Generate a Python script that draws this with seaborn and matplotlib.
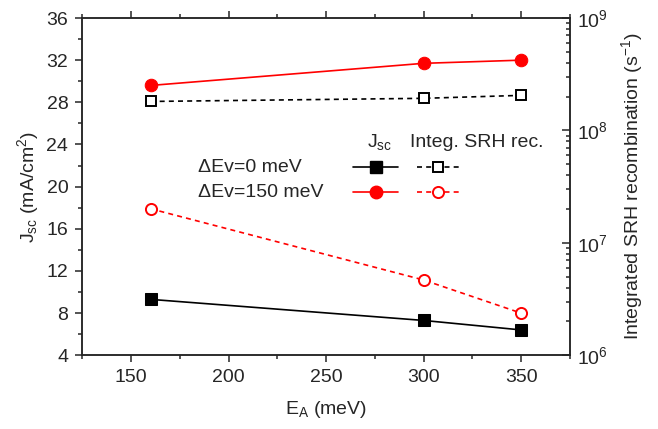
import matplotlib
matplotlib.use("Agg")
import matplotlib.pyplot as plt
from matplotlib.ticker import MultipleLocator, LogLocator, NullFormatter
import seaborn as sns

# E_A (meV)
ea = [160, 300, 350]

# Jsc (mA/cm2)
jsc_dev0 = [9.3, 7.3, 6.4]
jsc_dev150 = [29.6, 31.7, 32.0]

# integrated SRH recombination (s^-1)
srh_dev0 = [1.81e8, 1.93e8, 2.05e8]
srh_dev150 = [2.01e7, 4.67e6, 2.37e6]

legend_rows = ["\u0394Ev=0 meV", "\u0394Ev=150 meV"]
RED = "#FF0000"

sns.set_style("ticks")
plt.rcParams["font.family"] = ["Liberation Sans", "DejaVu Sans"]
plt.rcParams["mathtext.fontset"] = "custom"
plt.rcParams["mathtext.rm"] = "Liberation Sans"
plt.rcParams["mathtext.it"] = "Liberation Sans:italic"
plt.rcParams["font.size"] = 14
plt.rcParams["axes.linewidth"] = 1.1

fig = plt.figure(figsize=(6.58, 4.29), dpi=100)
ax = fig.add_axes([0.125, 0.172, 0.741, 0.786])
ax2 = ax.twinx()

sns.lineplot(x=ea, y=jsc_dev0, ax=ax, color="black", marker="s", markersize=8,
             markeredgecolor="black", linewidth=1.2)
sns.lineplot(x=ea, y=jsc_dev150, ax=ax, color=RED, marker="o", markersize=9,
             markeredgecolor=RED, linewidth=1.2)
sns.lineplot(x=ea, y=srh_dev0, ax=ax2, color="black", marker="s", markersize=7,
             markerfacecolor="white", markeredgecolor="black", markeredgewidth=1.4,
             linewidth=1.2, linestyle=(0, (3, 2.5)))
sns.lineplot(x=ea, y=srh_dev150, ax=ax2, color=RED, marker="o", markersize=8,
             markerfacecolor="white", markeredgecolor=RED, markeredgewidth=1.4,
             linewidth=1.2, linestyle=(0, (3, 2.5)))

ax.set_xlim(125, 375)
ax.set_ylim(4, 36)
ax.xaxis.set_major_locator(MultipleLocator(50))
ax.xaxis.set_minor_locator(MultipleLocator(25))
ax.yaxis.set_major_locator(MultipleLocator(4))
ax.yaxis.set_minor_locator(MultipleLocator(2))
ax.tick_params(which="both", direction="out", top=True, right=False, width=1.1)
ax.tick_params(which="major", length=5, pad=5)
ax.tick_params(which="minor", length=3)
ax.set_xlabel(r"E$_\mathrm{A}$ (meV)", labelpad=9)
ax.set_ylabel(r"J$_\mathrm{sc}$ (mA/cm$^\mathrm{2}$)")

ax2.set_yscale("log")
ax2.set_ylim(1e6, 1e9)
ax2.yaxis.set_major_locator(LogLocator(base=10))
ax2.yaxis.set_minor_locator(LogLocator(base=10, subs=range(2, 10)))
ax2.yaxis.set_minor_formatter(NullFormatter())
ax2.tick_params(which="both", direction="in", width=1.1)
ax2.tick_params(which="major", length=6, pad=5)
ax2.tick_params(which="minor", length=3)
ax2.set_ylabel(r"Integrated SRH recombination (s$^\mathrm{-1}$)", labelpad=8)

# legend table drawn by hand (labels left of the samples)
ax2.text(0.61, 0.632, r"J$_\mathrm{sc}$", transform=ax2.transAxes, ha="center", va="center")
ax2.text(0.672, 0.632, "Integ. SRH rec.", transform=ax2.transAxes, ha="left", va="center")
rows_y = [0.558, 0.484]
styles = [("black", "s", "black"), (RED, "o", RED)]
for label, yy, (c, m, ec) in zip(legend_rows, rows_y, styles):
    ax2.text(0.238, yy, label, transform=ax2.transAxes, ha="left", va="center")
    ax2.plot([0.555, 0.648], [yy, yy], transform=ax2.transAxes, color=c, lw=1.2)
    ax2.plot([0.6015], [yy], transform=ax2.transAxes, color=c, marker=m,
             markersize=8 if m == "s" else 9, markeredgecolor=ec, linestyle="none")
    ax2.plot([0.686, 0.775], [yy, yy], transform=ax2.transAxes, color=c, lw=1.2,
             linestyle=(0, (3, 2.5)))
    ax2.plot([0.7305], [yy], transform=ax2.transAxes, color=c, marker=m,
             markersize=7 if m == "s" else 8, markerfacecolor="white",
             markeredgecolor=ec, markeredgewidth=1.4, linestyle="none")

fig.savefig("out.png", dpi=100)
plt.close(fig)
